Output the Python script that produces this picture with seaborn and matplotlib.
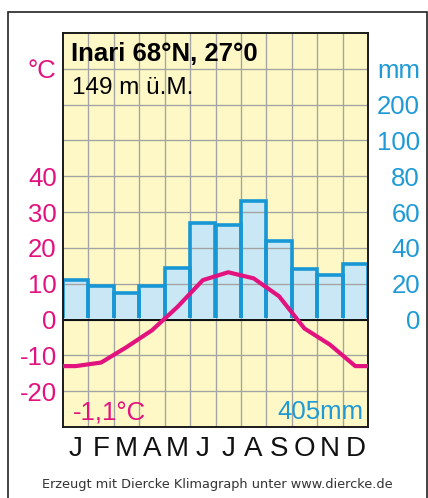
import matplotlib
matplotlib.use("Agg")
import matplotlib.pyplot as plt
from matplotlib.patches import Rectangle
import numpy as np
import pandas as pd
import seaborn as sns

# ---------------- data ----------------
months = ["Jan", "Feb", "Mar", "Apr", "May", "Jun", "Jul", "Aug", "Sep", "Oct", "Nov", "Dec"]
month_letters = ["J", "F", "M", "A", "M", "J", "J", "A", "S", "O", "N", "D"]
temperature = [-13.0, -12.0, -7.7, -3.0, 3.5, 11.0, 13.2, 11.5, 6.5, -2.5, -7.0, -13.0]
precipitation = [22, 19, 15, 19, 29, 54, 53, 66, 44, 28, 25, 31]

temp_ticks = [-20, -10, 0, 10, 20, 30, 40, 70]
temp_tick_labels = ["-20", "-10", "0", "10", "20", "30", "40", "°C"]
precip_grid = [-40, -20, 0, 20, 40, 60, 80, 100, 120, 140]
precip_tick_labels = ["", "", "0", "20", "40", "60", "80", "100", "200", "mm"]

title = "Inari 68°N, 27°0"
subtitle = "149 m ü.M."
mean_temp_label = "-1,1°C"
total_precip_label = "405mm"
footer = "Erzeugt mit Diercke Klimagraph unter www.diercke.de"

# ---------------- style ----------------
W, H = 428, 498
magenta = "#e2127e"
blue_text = "#1f9ad6"
blue_edge = "#1897d5"
blue_fill = "#c9e7f4"
yellow = "#fdf8c6"
grid_gray = "#a3a3a3"

plt.rcParams["font.family"] = ["Liberation Sans", "DejaVu Sans"]

fig = plt.figure(figsize=(W / 100, H / 100), dpi=100, facecolor="white")


def px(x, y):
    return x / W, 1 - y / H


ax = fig.add_axes([63 / W, 1 - 427 / H, (368 - 63) / W, (427 - 33) / H])
ax.set_facecolor(yellow)

df = pd.DataFrame({"month": months, "precip": precipitation})

# bar fill
sns.barplot(data=df, x="month", y="precip", ax=ax, color=blue_fill, saturation=1,
            width=1, linewidth=0, errorbar=None, zorder=1)
n_fill = len(ax.patches)
# bar outlines
sns.barplot(data=df, x="month", y="precip", ax=ax, color=blue_edge, saturation=1,
            width=1, fill=False, linewidth=2.6, errorbar=None)
clip = Rectangle((-0.5, 1.0), 12, 400, transform=ax.transData)
for p in ax.patches[n_fill:]:
    p.set_zorder(1.7)
    p.set_edgecolor(blue_edge)
    p.set_clip_path(clip)

ax.set_xlim(-0.5, 11.5)
ax.set_ylim(-60, 160)
ax.set_xlabel("")
ax.set_ylabel("")

# grid
ax.set_axisbelow("line")
ax.set_xticks(np.arange(len(months)))
ax.set_xticklabels(month_letters)
ax.set_xticks(np.arange(len(months) - 1) + 0.5, minor=True)
ax.set_yticks(precip_grid)
ax.set_yticklabels(precip_tick_labels)
ax.grid(which="minor", axis="x", color=grid_gray, linewidth=0.95)
ax.grid(which="major", axis="y", color=grid_gray, linewidth=0.95)
ax.grid(which="major", axis="x", visible=False)
ax.axhline(0, color="black", linewidth=1.3, zorder=2.2)
ax.tick_params(axis="x", which="both", length=0, pad=6.5, labelsize=20, labelcolor="#111111")

for s in ax.spines.values():
    s.set_color("#1a1a1a")
    s.set_linewidth(1.4)
    s.set_zorder(2.6)

# temperature axis
ax2 = ax.twinx()
ax2.yaxis.tick_left()
ax.yaxis.tick_right()
ax.tick_params(axis="y", which="both", length=0, pad=37.5, labelsize=18.5, labelcolor=blue_text,
               left=False, labelleft=False, right=False, labelright=True)
for t in ax.yaxis.get_major_ticks():
    t.label2.set_horizontalalignment("right")

x_pos = np.arange(len(months))
line_x = np.concatenate([[x_pos[0] - 0.5], x_pos, [x_pos[-1] + 0.5]])
line_y = np.concatenate([[temperature[0]], temperature, [temperature[-1]]])
sns.lineplot(x=line_x, y=line_y, ax=ax2, color=magenta, linewidth=3.0, sort=False,
             solid_joinstyle="round", solid_capstyle="butt")
ax2.set_xlim(-0.5, 11.5)
ax2.set_ylim(-30, 80)
ax2.set_yticks(temp_ticks)
ax2.set_yticklabels(temp_tick_labels)
ax2.tick_params(axis="y", length=0, pad=4.5, labelsize=18.5, labelcolor=magenta,
                left=False, labelleft=True, right=False, labelright=False)
ax2.set_ylabel("")
for s in ax2.spines.values():
    s.set_visible(False)

# texts
fig.text(*px(71, 61), title, fontsize=18.5, fontweight="bold", ha="left", va="baseline", color="black")
fig.text(*px(72, 94.5), subtitle, fontsize=17.5, ha="left", va="baseline", color="black")
fig.text(*px(73, 420), mean_temp_label, fontsize=18.5, ha="left", va="baseline", color=magenta)
fig.text(*px(363, 418.5), total_precip_label, fontsize=18.5, ha="right", va="baseline", color=blue_text)
fig.text(*px(217.5, 484), footer, fontsize=9.3, ha="center", va="center", color="#333333",
         family=["DejaVu Sans"])

# outer frame
frame = Rectangle(px(8, 520), (427 - 8) / W, (520 - 12) / H, transform=fig.transFigure,
                  fill=False, edgecolor="#222222", linewidth=1.2, clip_on=False)
fig.patches.append(frame)

fig.savefig("out.png", dpi=100, facecolor="white")
